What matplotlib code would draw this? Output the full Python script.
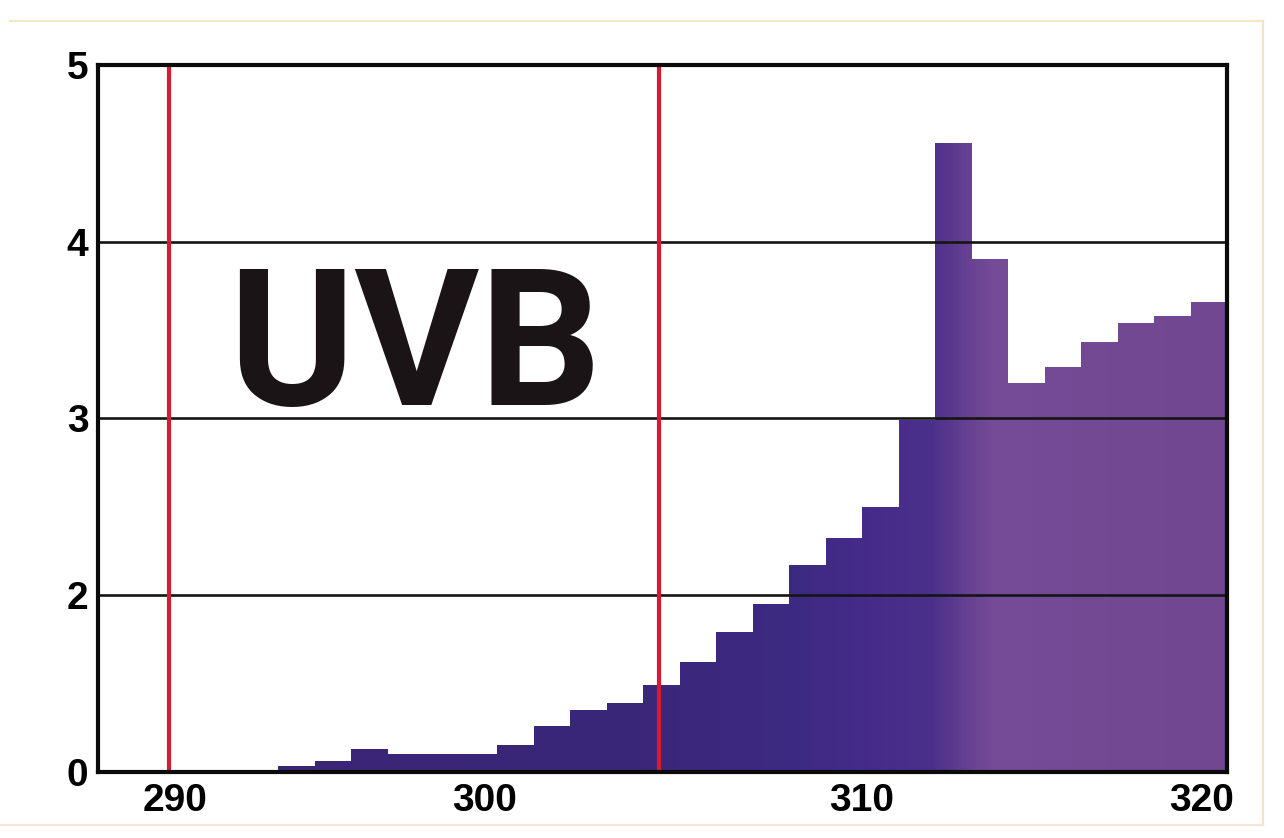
import numpy as np
import matplotlib
matplotlib.use('Agg')
import matplotlib.pyplot as plt
from matplotlib.colors import LinearSegmentedColormap

# wavelength bins (nm, left edge) and irradiance
wavelengths = np.arange(294, 320)
irradiance = [0.06, 0.12, 0.26, 0.20, 0.20, 0.20, 0.30, 0.52, 0.70, 0.78,
              0.98, 1.24, 1.58, 1.90, 2.17, 2.32, 2.50, 2.99, 4.56, 3.90,
              3.20, 3.29, 3.43, 3.54, 3.58, 3.66]
red_marks = [291.0, 304.45]
x_labels = ['290', '300', '310', '320']
y_ticks = [0, 2, 3, 4, 5]


def fwd(v):
    # axis is squeezed below 2: 0..2 takes the room of one unit
    v = np.asarray(v, dtype=float)
    return np.where(v < 2, v / 2.0, v - 1.0)


def inv(u):
    u = np.asarray(u, dtype=float)
    return np.where(u < 1, u * 2.0, u + 1.0)


fig = plt.figure(figsize=(12.84, 8.38), dpi=100)
ax = fig.add_axes([98 / 1284, 1 - 771.7 / 838, (1227 - 98) / 1284, (771.7 - 65) / 838])
ax.set_yscale('function', functions=(fwd, inv))
ax.set_xlim(320 - 1129 / 36.5, 320)
ax.set_ylim(0, 5)

# step outline of the spectrum, used as clip for the colour gradient
edges = np.append(wavelengths, wavelengths[-1] + 1)
vals = np.append(irradiance, irradiance[-1])
fb = ax.fill_between(edges, vals, 0, step='post', facecolor='none', edgecolor='none')

stops = [(0.0, '#3a2474'), (0.48, '#3b2779'), (0.62, '#3d2a82'), (0.684, '#462b8b'),
         (0.741, '#4b308a'), (0.777, '#6a4493'), (0.795, '#764b97'), (1.0, '#714791')]
cmap = LinearSegmentedColormap.from_list('uvb', stops)
grad = np.linspace(0, 1, 1200).reshape(1, -1)
im = ax.imshow(grad, cmap=cmap, extent=(0, 1, 0, 1), transform=ax.transAxes,
               aspect='auto', interpolation='bilinear', zorder=1)
im.set_clip_path(fb.get_paths()[0], transform=ax.transData)

for yv in [2, 3, 4]:
    ax.axhline(yv, color='#151515', lw=1.9, zorder=2)
for xv in red_marks:
    ax.axvline(xv, color='#d81a30', lw=3.0, zorder=3)

# tick labels sit where the original artwork put them
label_pos = [291.18, 299.67, 310.0, 319.29]
ax.set_xticks(label_pos, x_labels)
ax.set_yticks(y_ticks, [str(t) for t in y_ticks])
ax.tick_params(length=0)
ax.tick_params(axis='x', pad=8)
ax.tick_params(axis='y', pad=7)
for lab in ax.get_xticklabels() + ax.get_yticklabels():
    lab.set_fontfamily('Liberation Sans')
    lab.set_fontweight('bold')
    lab.set_fontsize(28)
for sp in ax.spines.values():
    sp.set_linewidth(3.0)
    sp.set_color('#0a0a0a')
    sp.set_zorder(5)

fig.text(228 / 1284, 1 - 405 / 838, 'UVB', family='Roboto', weight='bold',
         fontsize=138, color='#1a1416', ha='left', va='baseline')

# pale frame around the artwork
fig.add_artist(plt.Line2D([10 / 1284, 1263 / 1284], [1 - 21 / 838] * 2, color='#f3e8c2', lw=1.6))
fig.add_artist(plt.Line2D([1263 / 1284] * 2, [1 - 21 / 838, 1 - 825 / 838], color='#f3e4c8', lw=1.6))
fig.add_artist(plt.Line2D([0, 1263 / 1284], [1 - 825 / 838] * 2, color='#f6e4d4', lw=1.6))

fig.savefig('out.png', dpi=100)
